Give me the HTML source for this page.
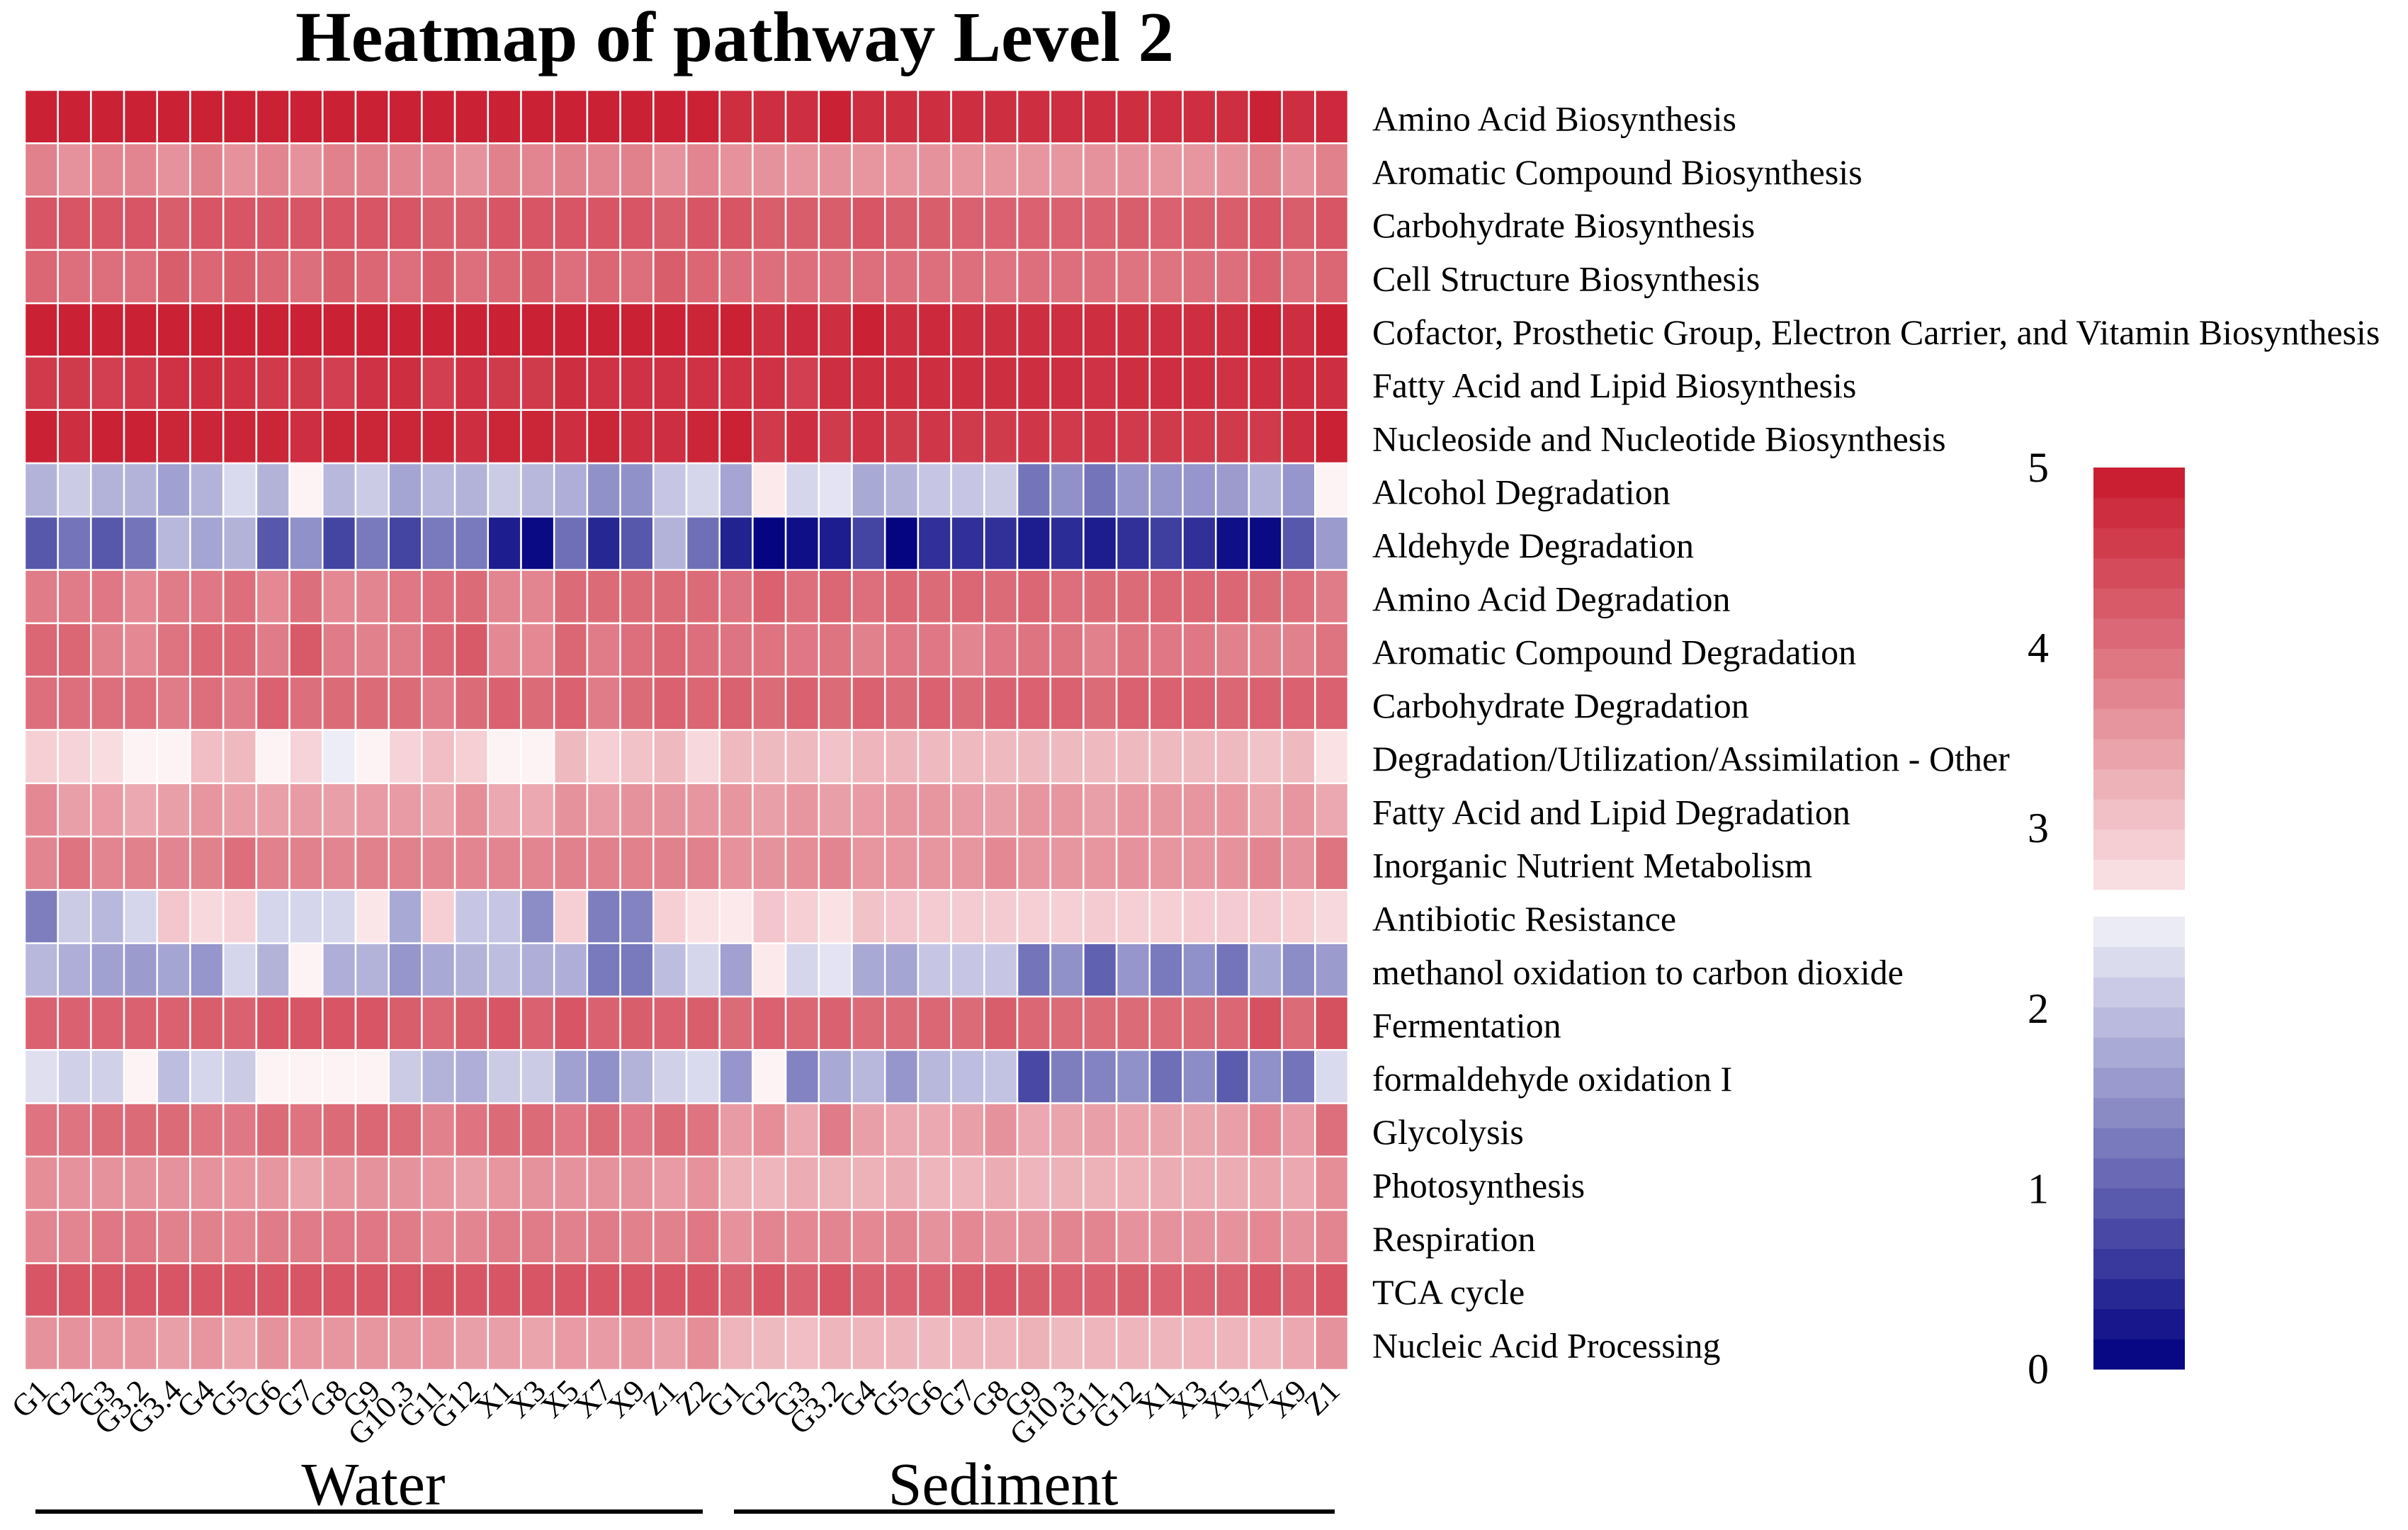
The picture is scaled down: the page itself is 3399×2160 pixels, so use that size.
<!DOCTYPE html>
<html><head><meta charset="utf-8"><style>
html,body{margin:0;padding:0;background:#fff;}
svg{display:block;font-family:"Liberation Serif",serif;}
</style></head><body>
<svg id="chart" width="3399" height="2160" viewBox="0 0 3399 2160" xmlns="http://www.w3.org/2000/svg">
<text x="1037" y="86" font-size="101" font-weight="bold" text-anchor="middle">Heatmap of pathway Level 2</text>
<g id="cells"></g>
<g id="rowlabels"></g>
<g id="collabels"></g>
<g id="cbar"></g>
<text x="527" y="2124" font-size="86" text-anchor="middle">Water</text>
<rect x="50" y="2131" width="942" height="6" fill="#000"/>
<text x="1416" y="2124" font-size="86" text-anchor="middle">Sediment</text>
<rect x="1036" y="2131" width="848" height="6" fill="#000"/>
</svg>
<script>
const pathways = ["Amino Acid Biosynthesis","Aromatic Compound Biosynthesis","Carbohydrate Biosynthesis","Cell Structure Biosynthesis","Cofactor, Prosthetic Group, Electron Carrier, and Vitamin Biosynthesis","Fatty Acid and Lipid Biosynthesis","Nucleoside and Nucleotide Biosynthesis","Alcohol Degradation","Aldehyde Degradation","Amino Acid Degradation","Aromatic Compound Degradation","Carbohydrate Degradation","Degradation/Utilization/Assimilation - Other","Fatty Acid and Lipid Degradation","Inorganic Nutrient Metabolism","Antibiotic Resistance","methanol oxidation to carbon dioxide","Fermentation","formaldehyde oxidation I","Glycolysis","Photosynthesis","Respiration","TCA cycle","Nucleic Acid Processing"];
const samples = ["G1","G2","G3","G3.2","G3.4","G4","G5","G6","G7","G8","G9","G10.3","G11","G12","X1","X3","X5","X7","X9","Z1","Z2","G1","G2","G3","G3.2","G4","G5","G6","G7","G8","G9","G10.3","G11","G12","X1","X3","X5","X7","X9","Z1"];
const legendTicks = [0,1,2,3,4,5];
const values = [
[4.9,4.9,4.9,4.9,4.9,4.9,4.9,4.9,4.9,4.9,4.9,4.9,4.9,4.9,4.9,4.9,4.9,4.9,4.9,4.9, 4.9, 4.75,4.75,4.75,4.9,4.75,4.75,4.75,4.75,4.75,4.75,4.75,4.75,4.75,4.75,4.75,4.75,4.9,4.75,4.8],
[3.8,3.6,3.75,3.75,3.6,3.8,3.6,3.75,3.6,3.8,3.8,3.75,3.75,3.6,3.8,3.75,3.8,3.75,3.8,3.6, 3.75, 3.6,3.6,3.55,3.6,3.55,3.55,3.6,3.55,3.55,3.55,3.55,3.6,3.6,3.55,3.55,3.6,3.8,3.6,3.8],
[4.3,4.3,4.3,4.3,4.2,4.3,4.3,4.3,4.3,4.3,4.3,4.3,4.2,4.2,4.3,4.3,4.3,4.3,4.3,4.2, 4.3, 4.3,4.2,4.2,4.2,4.3,4.2,4.2,4.15,4.15,4.15,4.15,4.15,4.2,4.15,4.2,4.2,4.3,4.2,4.3],
[4.1,4.0,4.0,4.0,4.2,4.1,4.2,4.1,4.0,4.2,4.1,4.0,4.2,4.0,4.1,4.2,4.0,4.1,4.0,4.2, 4.1, 4.0,4.0,4.0,4.0,4.0,4.0,4.0,4.0,3.95,4.0,4.0,4.0,3.95,3.95,4.0,4.0,4.15,4.0,4.1],
[4.9,4.9,4.9,4.9,4.9,4.9,4.9,4.9,4.9,4.9,4.9,4.9,4.9,4.9,4.9,4.9,4.9,4.9,4.9,4.9, 4.85, 4.9,4.75,4.8,4.75,4.9,4.75,4.8,4.75,4.75,4.75,4.75,4.75,4.75,4.75,4.75,4.75,4.9,4.75,4.9],
[4.6,4.6,4.55,4.6,4.7,4.75,4.7,4.6,4.6,4.55,4.7,4.75,4.55,4.7,4.6,4.6,4.75,4.7,4.7,4.7, 4.7, 4.7,4.7,4.55,4.75,4.75,4.75,4.75,4.75,4.75,4.75,4.75,4.7,4.75,4.75,4.75,4.7,4.75,4.75,4.75],
[4.9,4.75,4.9,4.9,4.85,4.85,4.85,4.85,4.75,4.85,4.85,4.85,4.85,4.75,4.85,4.85,4.75,4.85,4.75,4.75, 4.85, 4.9,4.6,4.75,4.6,4.7,4.6,4.65,4.6,4.6,4.65,4.6,4.65,4.6,4.6,4.6,4.6,4.6,4.75,4.9],
[1.85,2.1,1.85,1.85,1.65,1.85,2.25,1.85,2.5,1.9,2.1,1.7,1.9,1.85,2.1,1.9,1.8,1.5,1.5,2.05, 2.2, 1.7,2.6,2.2,2.35,1.75,1.85,2.05,2.05,2.1,1.2,1.5,1.2,1.55,1.55,1.55,1.6,1.85,1.55,2.5],
[0.9,1.2,0.9,1.2,1.9,1.7,1.85,0.9,1.5,0.7,1.25,0.7,1.25,1.25,0.3,0.1,1.15,0.4,0.9,1.85, 1.15, 0.35,0.05,0.15,0.3,0.7,0.05,0.5,0.5,0.5,0.3,0.45,0.3,0.5,0.65,0.5,0.15,0.1,0.9,1.6],
[3.85,3.85,3.9,3.7,3.85,3.9,4.0,3.7,4.0,3.7,3.75,3.9,4.0,4.05,3.75,3.75,4.05,4.05,4.05,4.05, 4.05, 3.95,4.15,4.0,4.1,4.0,4.1,4.05,4.1,4.05,4.1,4.0,4.05,4.05,4.1,4.1,4.1,4.05,4.0,3.85],
[4.1,4.1,3.8,3.7,3.95,4.1,4.1,3.85,4.25,3.85,3.8,3.85,4.1,4.25,3.7,3.7,4.1,3.85,4.0,4.1, 4.0, 3.95,3.95,3.9,3.95,3.8,3.9,3.9,3.75,3.9,3.95,3.95,3.8,3.95,3.9,3.9,3.8,3.8,3.8,3.95],
[4.0,4.0,4.0,4.0,3.85,4.0,3.85,4.15,4.0,4.05,4.05,4.05,3.85,4.05,4.15,4.05,4.15,3.85,4.05,4.15, 4.1, 4.15,4.05,4.15,4.05,4.15,4.05,4.15,4.05,4.15,4.15,4.15,4.05,4.15,4.15,4.15,4.1,4.15,4.15,4.15],
[2.9,2.85,2.75,2.5,2.5,3.1,3.15,2.5,2.85,2.45,2.5,2.85,3.1,2.9,2.5,2.5,3.15,2.9,3.05,3.15, 2.8, 3.15,3.15,3.15,3.05,3.2,3.2,3.15,3.15,3.15,3.15,3.15,3.15,3.15,3.15,3.15,3.15,3.05,3.15,2.7],
[3.7,3.45,3.5,3.35,3.45,3.55,3.45,3.45,3.5,3.45,3.5,3.5,3.4,3.65,3.35,3.35,3.6,3.5,3.6,3.6, 3.55, 3.55,3.45,3.55,3.45,3.5,3.55,3.55,3.5,3.45,3.55,3.55,3.45,3.55,3.55,3.55,3.55,3.4,3.55,3.35],
[3.75,3.95,3.75,3.8,3.75,3.8,4.0,3.8,3.8,3.75,3.8,3.8,3.75,3.75,3.75,3.75,3.8,3.8,3.8,3.8, 3.8, 3.6,3.6,3.65,3.75,3.55,3.55,3.55,3.55,3.7,3.55,3.55,3.55,3.6,3.55,3.55,3.6,3.75,3.6,3.95],
[1.3,2.1,1.9,2.2,3.0,2.8,2.85,2.2,2.2,2.2,2.65,1.75,2.9,2.05,2.05,1.45,2.9,1.3,1.35,2.9, 2.7, 2.6,3.0,2.9,2.7,3.05,3.0,2.95,2.95,2.95,2.9,2.9,2.95,2.9,2.9,2.95,2.95,2.95,2.9,2.8],
[1.9,1.8,1.65,1.6,1.7,1.55,2.2,1.85,2.5,1.8,1.85,1.55,1.75,1.85,1.95,1.8,1.8,1.25,1.25,1.95, 2.2, 1.65,2.6,2.2,2.35,1.75,1.7,2.05,2.05,2.05,1.2,1.5,1.0,1.55,1.25,1.5,1.2,1.75,1.45,1.6],
[4.15,4.15,4.15,4.15,4.15,4.2,4.15,4.3,4.3,4.3,4.3,4.2,4.1,4.2,4.3,4.15,4.3,4.15,4.2,4.15, 4.2, 4.05,4.15,4.1,4.15,4.05,4.05,4.1,4.05,4.2,4.1,4.05,4.05,4.05,4.05,4.05,4.1,4.35,4.05,4.35],
[2.3,2.15,2.15,2.5,1.95,2.2,2.1,2.5,2.5,2.5,2.5,2.1,1.85,1.8,2.1,2.1,1.65,1.5,1.85,2.15, 2.25, 1.55,2.5,1.35,1.75,1.9,1.55,1.9,1.95,2.0,0.75,1.3,1.35,1.5,1.15,1.45,0.95,1.5,1.2,2.25],
[3.95,3.95,4.05,4.05,4.05,3.95,3.9,4.05,3.95,4.05,4.1,4.05,3.8,3.95,4.05,4.05,3.9,4.05,3.9,4.05, 3.95, 3.5,3.65,3.35,3.85,3.45,3.35,3.35,3.45,3.6,3.35,3.4,3.45,3.4,3.4,3.4,3.45,3.7,3.5,4.0],
[3.65,3.6,3.6,3.6,3.6,3.6,3.55,3.55,3.4,3.55,3.6,3.6,3.55,3.45,3.55,3.6,3.6,3.6,3.6,3.5, 3.6, 3.25,3.2,3.3,3.25,3.25,3.3,3.2,3.2,3.3,3.2,3.25,3.25,3.25,3.3,3.3,3.3,3.4,3.35,3.65],
[3.75,3.75,3.9,3.9,3.8,3.8,3.75,3.85,3.85,3.9,3.9,3.85,3.7,3.75,3.85,3.85,3.8,3.85,3.8,3.8, 3.9, 3.6,3.75,3.7,3.75,3.7,3.75,3.6,3.7,3.6,3.6,3.75,3.75,3.6,3.6,3.6,3.6,3.7,3.6,3.75],
[4.3,4.3,4.3,4.3,4.3,4.3,4.3,4.3,4.3,4.3,4.3,4.3,4.35,4.3,4.3,4.3,4.3,4.3,4.3,4.3, 4.3, 4.15,4.3,4.15,4.3,4.15,4.15,4.15,4.25,4.3,4.2,4.15,4.15,4.2,4.15,4.15,4.15,4.3,4.15,4.3],
[3.6,3.6,3.55,3.55,3.45,3.55,3.4,3.6,3.55,3.55,3.55,3.55,3.55,3.45,3.45,3.4,3.5,3.5,3.55,3.45, 3.65, 3.2,3.15,3.1,3.2,3.2,3.2,3.15,3.2,3.2,3.25,3.15,3.2,3.2,3.2,3.2,3.2,3.2,3.35,3.6]
];

const NS = "http://www.w3.org/2000/svg";
const X0 = 35, X1 = 1903, Y0 = 127, Y1 = 1934;
const colW = (X1 - X0) / samples.length;
const rowH = (Y1 - Y0) / pathways.length;
function xScale(i){ return X0 + i * colW; }
function yScale(j){ return Y0 + j * rowH; }
function lerp(a,b,t){ return Math.round(a + (b-a)*t); }
function color(v){
  if (v >= 2.5){
    const t = Math.min(1,(v-2.5)/2.5);
    return `rgb(${lerp(253,200,t)},${lerp(242,24,t)},${lerp(244,44,t)})`;
  }
  const t = Math.max(0,v/2.5);
  return `rgb(${lerp(0,242,t)},${lerp(0,242,t)},${lerp(128,250,t)})`;
}
function mk(tag, attrs, parent){
  const e = document.createElementNS(NS, tag);
  for (const k in attrs) e.setAttribute(k, attrs[k]);
  parent.appendChild(e);
  return e;
}
const cells = document.getElementById('cells');
values.forEach((row, j) => {
  row.forEach((v, i) => {
    const r = mk('rect', {x: xScale(i), y: yScale(j), width: colW, height: rowH, fill: color(v), stroke: '#fff', 'stroke-width': 2.5}, cells);
    
    
  });
});
const rl = document.getElementById('rowlabels');
pathways.forEach((p, j) => {
  const t = mk('text', {x: 1937, y: yScale(j) + rowH/2 + 20, 'font-size': 50}, rl);
  t.textContent = p;
  
  
});
const cl = document.getElementById('collabels');
samples.forEach((s, i) => {
  const cx = xScale(i) + colW/2 + 14, cy = 1966;
  const t = mk('text', {x: cx, y: cy, 'font-size': 44, 'text-anchor': 'end', transform: `rotate(-45 ${cx} ${cy})`}, cl);
  t.textContent = s;
  
  
});
// color legend
const cb = document.getElementById('cbar');
const CB_X = 2955, CB_W = 129, CB_TOP = 660, CB_BOT = 1933;
function vScale(v){ return CB_BOT - (CB_BOT - CB_TOP) * v / 5; }
const redLo = 2.66, redSteps = 14, blueHi = 2.51, blueSteps = 15;
for (let k = 0; k < redSteps; k++){
  const a = redLo + (5 - redLo) * k / redSteps, b = redLo + (5 - redLo) * (k+1) / redSteps;
  const r = mk('rect', {x: CB_X, y: vScale(b), width: CB_W, height: vScale(a) - vScale(b) + 0.5, fill: color((a+b)/2)}, cb);
  
  
}
for (let k = 0; k < blueSteps; k++){
  const a = blueHi * k / blueSteps, b = blueHi * (k+1) / blueSteps;
  const r = mk('rect', {x: CB_X, y: vScale(b), width: CB_W, height: vScale(a) - vScale(b) + 0.5, fill: color((a+b)/2)}, cb);
  
  
}
legendTicks.forEach(v => {
  const t = mk('text', {x: 2877, y: vScale(v) + 20, 'font-size': 60, 'text-anchor': 'middle'}, cb);
  t.textContent = v;
  
  
});
</script>
</body></html>
